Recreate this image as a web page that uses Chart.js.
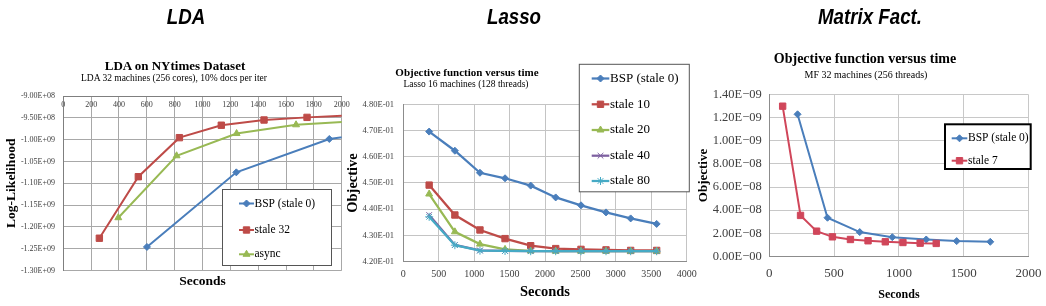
<!DOCTYPE html>
<html><head><meta charset="utf-8">
<script src="https://cdn.jsdelivr.net/npm/chart.js@4.4.1/dist/chart.umd.min.js"></script>
<style>
html,body{margin:0;padding:0;background:#fff;}
#wrap{position:relative;width:1046px;height:306px;overflow:hidden;background:#fff;}
canvas{position:absolute;top:0;}
.hd{position:absolute;font-family:'Liberation Sans',Arial,sans-serif;font-weight:bold;font-style:italic;font-size:22px;line-height:1;white-space:nowrap;transform:translate(-50%,-50%) scaleX(0.85);color:#000;}
.tt{position:absolute;font-family:'Liberation Serif',serif;line-height:1;white-space:nowrap;transform:translate(-50%,-50%);color:#000;}
</style></head>
<body><div id="wrap">
<canvas id="c1" width="352" height="306" style="left:0px"></canvas>
<canvas id="c2" width="357" height="306" style="left:343px"></canvas>
<canvas id="c3" width="353" height="306" style="left:693px"></canvas>
<div class="hd" style="left:186px;top:17px">LDA</div>
<div class="hd" style="left:514px;top:17px">Lasso</div>
<div class="hd" style="left:870px;top:17px">Matrix Fact.</div>
<div class="tt" style="left:175px;top:65px;font-size:13px;font-weight:bold">LDA on NYtimes Dataset</div>
<div class="tt" style="left:174px;top:79px;font-size:9.5px">LDA 32 machines (256 cores), 10% docs per iter</div>
<div class="tt" style="left:467px;top:72px;font-size:11px;font-weight:bold">Objective function versus time</div>
<div class="tt" style="left:466px;top:84.5px;font-size:9.5px">Lasso 16 machines (128 threads)</div>
<div class="tt" style="left:865px;top:58.5px;font-size:14px;font-weight:bold">Objective function versus time</div>
<div class="tt" style="left:866px;top:75px;font-size:10px">MF 32 machines (256 threads)</div>
</div>
<script>
// ---------- LDA data ----------
const ldaXLabels = ['0','200','400','600','800','1000','1200','1400','1600','1800','2000'];
const ldaYLabels = ['-1.30E+09','-1.25E+09','-1.20E+09','-1.15E+09','-1.10E+09','-1.05E+09','-1.00E+09','-9.50E+08','-9.00E+08'];
const ldaSeries = ['BSP (stale 0)', 'stale 32', 'async'];
const ldaBspX = [601, 1243, 1911, 2550];
const ldaBspY = [-1.246e9, -1.075e9, -0.9985e9, -0.971e9];
const ldaStale32X = [259, 539, 834, 1135, 1442, 1751, 2060];
const ldaStale32Y = [-1.226e9, -1.085e9, -0.9955e9, -0.967e9, -0.955e9, -0.949e9, -0.9445e9];
const ldaAsyncX = [395, 814, 1245, 1672, 2100];
const ldaAsyncY = [-1.179e9, -1.037e9, -0.986e9, -0.966e9, -0.958e9];

// ---------- Lasso data ----------
const lassoXLabels = ['0','500','1000','1500','2000','2500','3000','3500','4000'];
const lassoYLabels = ['4.20E-01','4.30E-01','4.40E-01','4.50E-01','4.60E-01','4.70E-01','4.80E-01'];
const lassoSeries = ['BSP (stale 0)', 'stale 10', 'stale 20', 'stale 40', 'stale 80'];
const lassoX = [365, 728, 1082, 1436, 1798, 2151, 2508, 2861, 3209, 3576];
const lassoBsp = [0.4696, 0.4623, 0.4539, 0.4518, 0.4490, 0.4445, 0.4415, 0.4388, 0.4365, 0.4344];
const lassoStale10 = [0.4492, 0.4378, 0.4321, 0.4288, 0.4261, 0.4250, 0.4247, 0.4245, 0.4243, 0.4243];
const lassoStale20 = [0.4458, 0.4314, 0.4267, 0.4247, 0.4241, 0.4240, 0.4240, 0.4240, 0.4240, 0.4240];
const lassoStale40 = [0.4378, 0.4264, 0.4243, 0.4241, 0.4240, 0.4240, 0.4240, 0.4240, 0.4240, 0.4240];
const lassoStale80 = [0.4371, 0.4263, 0.4242, 0.4241, 0.4240, 0.4240, 0.4240, 0.4240, 0.4240, 0.4240];

// ---------- Matrix factorization data ----------
const mfXLabels = ['0','500','1000','1500','2000'];
const mfYLabels = ['0.00E\u221200','2.00E\u221208','4.00E\u221208','6.00E\u221208','8.00E\u221208','1.00E\u221209','1.20E\u221209','1.40E\u221209'];
const mfSeries = ['BSP (stale 0)', 'stale 7'];
const mfBspX = [218, 449, 698, 949, 1211, 1446, 1705];
const mfBspY = [1.229, 0.335, 0.211, 0.167, 0.147, 0.133, 0.127];
const mfStale7X = [103, 241, 365, 487, 626, 762, 895, 1031, 1164, 1288];
const mfStale7Y = [1.299, 0.355, 0.219, 0.170, 0.147, 0.136, 0.127, 0.121, 0.115, 0.113];

const SERIF = "'Liberation Serif', 'Times New Roman', serif";
const pts = (xs, ys) => xs.map((x, i) => ({x: x, y: ys[i]}));

const boxLegend = {
  id: 'boxLegend',
  afterDraw(chart, args, o) {
    const ctx = chart.ctx;
    ctx.save();
    ctx.fillStyle = '#fff';
    ctx.fillRect(o.x, o.y, o.w, o.h);
    ctx.lineWidth = o.borderWidth;
    ctx.strokeStyle = o.borderColor;
    ctx.strokeRect(o.x, o.y, o.w, o.h);
    chart.data.datasets.forEach((ds, i) => {
      const yy = o.rows[i];
      ctx.strokeStyle = ds.borderColor;
      ctx.lineWidth = ds.borderWidth;
      ctx.beginPath(); ctx.moveTo(o.lx1, yy); ctx.lineTo(o.lx2, yy); ctx.stroke();
      ctx.fillStyle = ds.pointBackgroundColor;
      ctx.strokeStyle = ds.pointBorderColor;
      ctx.lineWidth = 1;
      Chart.helpers.drawPoint(ctx, {pointStyle: ds.pointStyle, radius: ds.pointRadius, rotation: 0, borderWidth: 1}, (o.lx1 + o.lx2) / 2, yy);
      ctx.fillStyle = '#000';
      ctx.font = o.font;
      ctx.textBaseline = 'middle';
      ctx.textAlign = 'left';
      ctx.fillText(ds.label, o.tx, yy);
    });
    ctx.restore();
  }
};

function ds(label, data, color, style, radius, width, order, clip) {
  return {
    label, data, showLine: true, tension: 0,
    borderColor: color, backgroundColor: color, borderWidth: width,
    pointStyle: style, pointRadius: radius, pointBackgroundColor: color, pointBorderColor: color,
    pointBorderWidth: 1, order: order, clip: clip
  };
}

const BLUE = '#4a7ebb', RED = '#be4b48', GREEN = '#98b954', PURPLE = '#7d60a0', CYAN = '#46aac5';
const baseOpts = {responsive: false, animation: false, devicePixelRatio: 1, events: []};

// ---------- Chart 1: LDA ----------
new Chart(document.getElementById('c1'), {
  type: 'scatter',
  data: {datasets: [
    ds(ldaSeries[0], pts(ldaBspX, ldaBspY), BLUE, 'rectRot', 3.5, 2, 3, 0),
    ds(ldaSeries[1], pts(ldaStale32X, ldaStale32Y), RED, 'rect', 4.5, 2, 2, 0),
    ds(ldaSeries[2], pts(ldaAsyncX, ldaAsyncY), GREEN, 'triangle', 4, 2, 1, 0)
  ]},
  options: Object.assign({}, baseOpts, {
    layout: {padding: {top: 96, right: 10.3, bottom: 0, left: 0}},
    plugins: {legend: {display: false}, tooltip: {enabled: false},
      boxLegend: {x: 222.5, y: 189.5, w: 109, h: 76, borderWidth: 1, borderColor: '#555',
        rows: [203.5, 230, 254.3], lx1: 239, lx2: 254, tx: 254.5, font: "11.5px " + SERIF}},
    scales: {
      x: {type: 'linear', position: 'top', min: 0, max: 2000,
        grid: {color: '#a8a8a8', drawTicks: false},
        border: {color: '#7f7f7f'},
        ticks: {stepSize: 200, mirror: true, padding: 4.5, autoSkip: false, maxRotation: 0,
          font: {family: SERIF, size: 8}, color: '#404040', callback: (v, i) => ldaXLabels[i]},
        afterFit: s => { s.height = 0; s.paddingLeft = 0; s.paddingRight = 0; }},
      x2: {type: 'linear', position: 'bottom', min: 0, max: 2000,
        grid: {display: false}, border: {display: false}, ticks: {display: false},
        title: {display: true, text: 'Seconds', font: {family: SERIF, size: 13.5, weight: 'bold'}, color: '#000', padding: {top: 0, bottom: 16.2}},
        afterFit: s => { s.height = 35.5; s.paddingLeft = 0; s.paddingRight = 0; }},
      y: {type: 'linear', position: 'left', min: -1.3e9, max: -9e8,
        grid: {color: '#a8a8a8', drawTicks: false},
        border: {color: '#7f7f7f'},
        ticks: {stepSize: 5e7, padding: 8.3, autoSkip: false,
          font: {family: SERIF, size: 8}, color: '#404040', callback: (v, i) => ldaYLabels[i]},
        title: {display: true, text: 'Log-Likelihood', font: {family: SERIF, size: 13.5, weight: 'bold'}, color: '#000', padding: {top: 3.6, bottom: 0}},
        afterFit: s => { s.width = 63.3; s.paddingTop = 0; s.paddingBottom = 0; }}
    }
  }),
  plugins: [boxLegend]
});

// ---------- Chart 2: Lasso ----------
new Chart(document.getElementById('c2'), {
  type: 'scatter',
  data: {datasets: [
    ds(lassoSeries[0], pts(lassoX, lassoBsp), BLUE, 'rectRot', 3.5, 2.25, 5),
    ds(lassoSeries[1], pts(lassoX, lassoStale10), RED, 'rect', 4.5, 2.25, 4),
    ds(lassoSeries[2], pts(lassoX, lassoStale20), GREEN, 'triangle', 4, 2.25, 3),
    ds(lassoSeries[3], pts(lassoX, lassoStale40), PURPLE, 'crossRot', 4, 2.25, 2),
    ds(lassoSeries[4], pts(lassoX, lassoStale80), CYAN, 'star', 4, 2.25, 1)
  ]},
  options: Object.assign({}, baseOpts, {
    layout: {padding: {top: 104.3, right: 13.3, bottom: 0, left: 0}},
    plugins: {legend: {display: false}, tooltip: {enabled: false},
      boxLegend: {x: 236.3, y: 64.3, w: 110, h: 127.5, borderWidth: 1, borderColor: '#555',
        rows: [78.5, 104.3, 130, 155.7, 181], lx1: 248.7, lx2: 266.3, tx: 267, font: "13px " + SERIF}},
    scales: {
      x: {type: 'linear', position: 'bottom', min: 0, max: 4000,
        grid: {color: '#c4c4c4', drawTicks: false},
        border: {color: '#8c8c8c'},
        ticks: {stepSize: 500, padding: 6.6, autoSkip: false, maxRotation: 0,
          font: {family: SERIF, size: 10}, color: '#404040', callback: (v, i) => lassoXLabels[i]},
        title: {display: true, text: 'Seconds', font: {family: SERIF, size: 14.5, weight: 'bold'}, color: '#000', padding: {top: 0, bottom: 4.6}},
        afterFit: s => { s.height = 44.3; s.paddingLeft = 0; s.paddingRight = 0; }},
      y: {type: 'linear', position: 'left', min: 0.42, max: 0.48,
        grid: {color: '#c4c4c4', drawTicks: false},
        border: {color: '#8c8c8c'},
        ticks: {stepSize: 0.01, padding: 9.3, autoSkip: false,
          font: {family: SERIF, size: 8.5}, color: '#404040', callback: (v, i) => lassoYLabels[i]},
        title: {display: true, text: 'Objective', font: {family: SERIF, size: 14.5, weight: 'bold'}, color: '#000', padding: {top: 1.6, bottom: 0}},
        afterFit: s => { s.width = 60.3; s.paddingTop = 0; s.paddingBottom = 0; }}
    }
  }),
  plugins: [boxLegend]
});

// ---------- Chart 3: Matrix factorization ----------
const MFRED = '#d0465a';
new Chart(document.getElementById('c3'), {
  type: 'scatter',
  data: {datasets: [
    ds(mfSeries[0], pts(mfBspX, mfBspY), BLUE, 'rectRot', 3.5, 2, 2),
    ds(mfSeries[1], pts(mfStale7X, mfStale7Y), MFRED, 'rect', 4.5, 2, 1)
  ]},
  options: Object.assign({}, baseOpts, {
    layout: {padding: {top: 94.5, right: 17.5, bottom: 0, left: 0}},
    plugins: {legend: {display: false}, tooltip: {enabled: false},
      boxLegend: {x: 252, y: 124.3, w: 85.7, h: 44.7, borderWidth: 2, borderColor: '#000',
        rows: [138.3, 160.7], lx1: 258.7, lx2: 274.3, tx: 275, font: "11.5px " + SERIF}},
    scales: {
      x: {type: 'linear', position: 'bottom', min: 0, max: 2000,
        grid: {color: '#c8c8c8', drawTicks: false},
        border: {color: '#8c8c8c'},
        ticks: {stepSize: 500, padding: 9, autoSkip: false, maxRotation: 0,
          font: {family: SERIF, size: 13}, color: '#404040', callback: (v, i) => mfXLabels[i]},
        title: {display: true, text: 'Seconds', font: {family: SERIF, size: 12, weight: 'bold'}, color: '#000', padding: {top: 0, bottom: 3.8}},
        afterFit: s => { s.height = 49.5; s.paddingLeft = 0; s.paddingRight = 0; }},
      y: {type: 'linear', position: 'left', min: 0, max: 1.4,
        grid: {color: '#c8c8c8', drawTicks: false},
        border: {color: '#8c8c8c'},
        ticks: {stepSize: 0.2, padding: 7.6, autoSkip: false,
          font: {family: SERIF, size: 12.5}, color: '#404040', callback: (v, i) => mfYLabels[i]},
        title: {display: true, text: 'Objective', font: {family: SERIF, size: 13, weight: 'bold'}, color: '#000', padding: {top: 3.2, bottom: 0}},
        afterFit: s => { s.width = 76.3; s.paddingTop = 0; s.paddingBottom = 0; }}
    }
  }),
  plugins: [boxLegend]
});
</script>
</body></html>
